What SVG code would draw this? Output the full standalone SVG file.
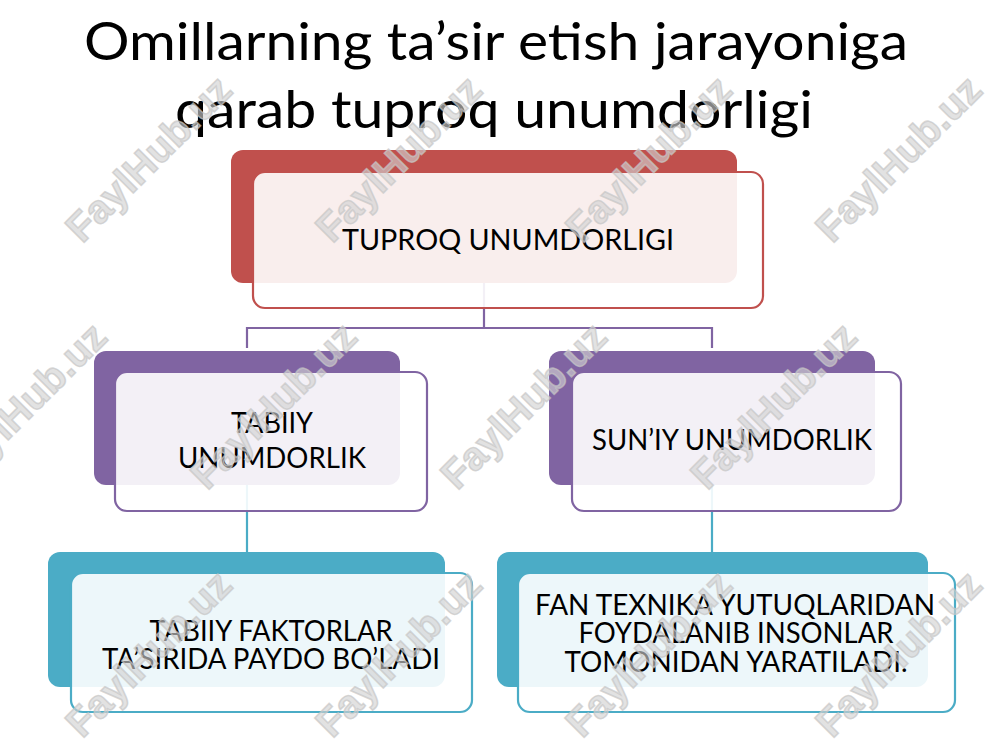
<svg xmlns="http://www.w3.org/2000/svg" width="1000" height="750" viewBox="0 0 1000 750">
<style>
  .t { font-family: Lato, "Open Sans", "Liberation Sans", sans-serif; fill: #000; text-anchor: middle; }
  .title { font-size: 52px; }
  .lbl { font-size: 28px; }
  .back { stroke: none; }
  .front { fill: #ffffff; fill-opacity: 0.9; stroke-width: 2.2; }
  .conn { fill: none; stroke-width: 2.2; }
  .wm { font-family: "Liberation Sans", Arial, sans-serif; font-weight: bold; font-size: 40px; fill: #d2d2d2; fill-opacity: 0.65; stroke: #c6c6c6; stroke-opacity: 0.7; stroke-width: 1.6; text-anchor: middle; }
</style>
<rect width="1000" height="750" fill="#ffffff"/>

<g id="title">
  <text class="t title" x="496" y="60" textLength="824" lengthAdjust="spacingAndGlyphs">Omillarning ta’sir etish jarayoniga</text>
  <text class="t title" x="494" y="128" textLength="638" lengthAdjust="spacingAndGlyphs">qarab tuproq unumdorligi</text>
</g>

<g id="connectors">
  <path class="conn" stroke="#8064a2" d="M484 283 V328 M247 348 V328 H712 V348"/>
  <path class="conn" stroke="#4bacc6" d="M247 485 V552 M712 485 V552"/>
</g>

<g id="node-tuproq">
  <rect class="back" x="231" y="150" width="506" height="133" rx="12" fill="#c0504d"/>
  <rect class="front" x="253" y="172" width="510" height="136" rx="12" stroke="#c0504d"/>
  <text class="t lbl" x="508" y="250" textLength="332" lengthAdjust="spacingAndGlyphs">TUPROQ UNUMDORLIGI</text>
</g>

<g id="node-tabiiy">
  <rect class="back" x="94" y="351" width="306" height="134" rx="12" fill="#8064a2"/>
  <rect class="front" x="115" y="372" width="312" height="139" rx="12" stroke="#8064a2"/>
  <text class="t lbl"><tspan x="272" y="433" textLength="82" lengthAdjust="spacingAndGlyphs">TABIIY</tspan><tspan x="272" y="468" textLength="188" lengthAdjust="spacingAndGlyphs">UNUMDORLIK</tspan></text>
</g>

<g id="node-suniy">
  <rect class="back" x="549" y="351" width="326" height="134" rx="12" fill="#8064a2"/>
  <rect class="front" x="572" y="372" width="329" height="139" rx="12" stroke="#8064a2"/>
  <text class="t lbl" x="732" y="450" textLength="280" lengthAdjust="spacingAndGlyphs">SUN’IY UNUMDORLIK</text>
</g>

<g id="node-tabiiy-faktor">
  <rect class="back" x="48" y="552" width="397" height="135" rx="12" fill="#4bacc6"/>
  <rect class="front" x="71" y="573" width="401" height="139" rx="12" stroke="#4bacc6"/>
  <text class="t lbl"><tspan x="271" y="641" textLength="243" lengthAdjust="spacingAndGlyphs">TABIIY FAKTORLAR</tspan><tspan x="271" y="669" textLength="338" lengthAdjust="spacingAndGlyphs">TA’SIRIDA PAYDO BO’LADI</tspan></text>
</g>

<g id="node-fan-texnika">
  <rect class="back" x="497" y="552" width="431" height="135" rx="12" fill="#4bacc6"/>
  <rect class="front" x="518" y="573" width="437" height="139" rx="12" stroke="#4bacc6"/>
  <text class="t lbl"><tspan x="735" y="615" textLength="400" lengthAdjust="spacingAndGlyphs">FAN TEXNIKA YUTUQLARIDAN</tspan><tspan x="736" y="643" textLength="315" lengthAdjust="spacingAndGlyphs">FOYDALANIB INSONLAR</tspan><tspan x="736" y="672" textLength="343" lengthAdjust="spacingAndGlyphs">TOMONIDAN YARATILADI.</tspan></text>
</g>

<g id="watermarks">
  <text class="wm" transform="translate(148,158) rotate(-45)" dy="0.36em" textLength="215" lengthAdjust="spacingAndGlyphs">FaylHub.uz</text>
  <text class="wm" transform="translate(398,158) rotate(-45)" dy="0.36em" textLength="215" lengthAdjust="spacingAndGlyphs">FaylHub.uz</text>
  <text class="wm" transform="translate(648,158) rotate(-45)" dy="0.36em" textLength="215" lengthAdjust="spacingAndGlyphs">FaylHub.uz</text>
  <text class="wm" transform="translate(898,158) rotate(-45)" dy="0.36em" textLength="215" lengthAdjust="spacingAndGlyphs">FaylHub.uz</text>
  <text class="wm" transform="translate(23,405) rotate(-45)" dy="0.36em" textLength="215" lengthAdjust="spacingAndGlyphs">FaylHub.uz</text>
  <text class="wm" transform="translate(273,405) rotate(-45)" dy="0.36em" textLength="215" lengthAdjust="spacingAndGlyphs">FaylHub.uz</text>
  <text class="wm" transform="translate(523,405) rotate(-45)" dy="0.36em" textLength="215" lengthAdjust="spacingAndGlyphs">FaylHub.uz</text>
  <text class="wm" transform="translate(773,405) rotate(-45)" dy="0.36em" textLength="215" lengthAdjust="spacingAndGlyphs">FaylHub.uz</text>
  <text class="wm" transform="translate(148,653) rotate(-45)" dy="0.36em" textLength="215" lengthAdjust="spacingAndGlyphs">FaylHub.uz</text>
  <text class="wm" transform="translate(398,653) rotate(-45)" dy="0.36em" textLength="215" lengthAdjust="spacingAndGlyphs">FaylHub.uz</text>
  <text class="wm" transform="translate(648,653) rotate(-45)" dy="0.36em" textLength="215" lengthAdjust="spacingAndGlyphs">FaylHub.uz</text>
  <text class="wm" transform="translate(898,653) rotate(-45)" dy="0.36em" textLength="215" lengthAdjust="spacingAndGlyphs">FaylHub.uz</text>
</g>
</svg>
